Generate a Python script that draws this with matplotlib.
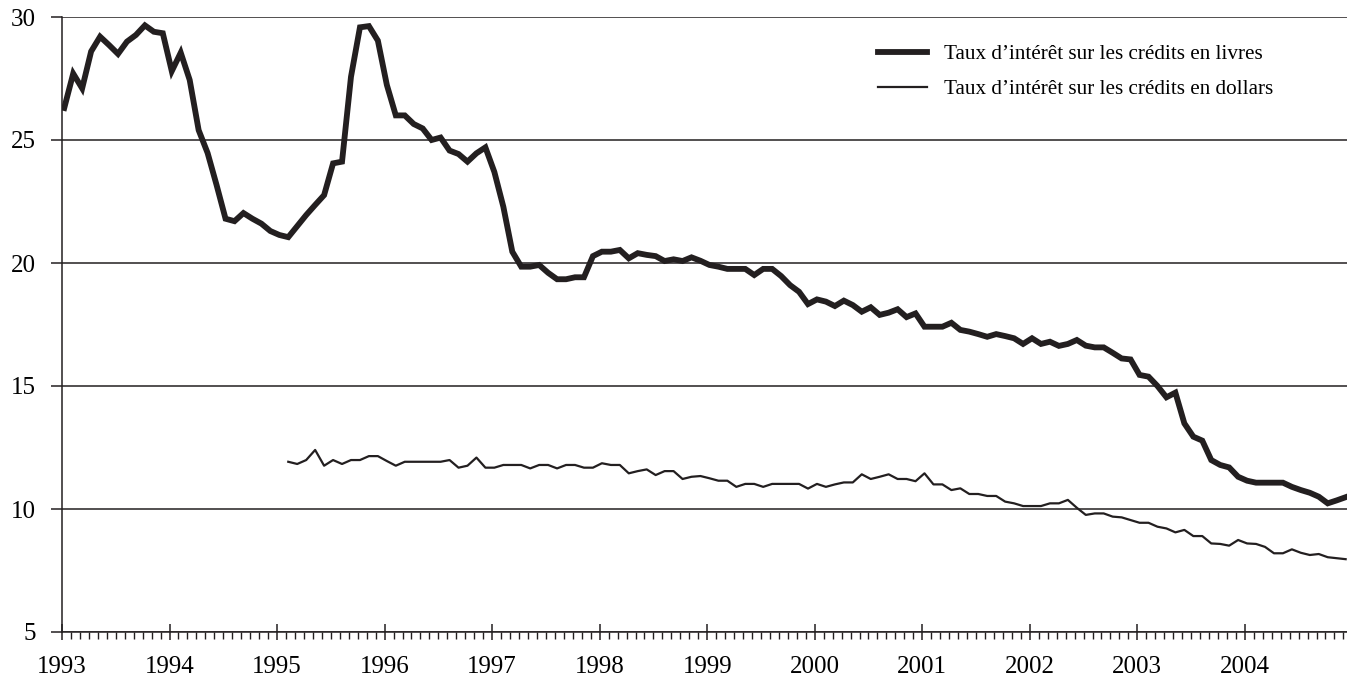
import matplotlib
matplotlib.use("Agg")
import matplotlib.pyplot as plt
import numpy as np
from matplotlib.ticker import MultipleLocator

plt.rcParams['font.family'] = ['Liberation Serif', 'DejaVu Serif']

years = list(range(1993, 2005))

# Taux sur les crédits en livres, mensuel, janv. 1993 - déc. 2004
livres = [
    26.3, 27.7, 27.1, 28.6, 29.2, 28.86, 28.5, 29.0, 29.27, 29.66, 29.4, 29.34,
    27.8, 28.55, 27.44, 25.4, 24.47, 23.17, 21.8, 21.7, 22.03, 21.8, 21.6, 21.3,
    21.14, 21.05, 21.5, 21.95, 22.36, 22.76, 24.05, 24.12, 27.57, 29.58, 29.63, 29.04,
    27.24, 26.0, 26.0, 25.65, 25.47, 25.0, 25.1, 24.57, 24.43, 24.12, 24.46, 24.7,
    23.7, 22.29, 20.46, 19.85, 19.85, 19.92, 19.6, 19.34, 19.34, 19.42, 19.42, 20.28,
    20.46, 20.46, 20.53, 20.19, 20.4, 20.33, 20.28, 20.08, 20.15, 20.08, 20.23, 20.09,
    19.92, 19.85, 19.76, 19.76, 19.76, 19.51, 19.76, 19.76, 19.47, 19.1, 18.83, 18.33,
    18.52, 18.43, 18.25, 18.47, 18.29, 18.02, 18.2, 17.89, 17.98, 18.12, 17.8, 17.95,
    17.41, 17.41, 17.41, 17.57, 17.28, 17.21, 17.11, 17.0, 17.11, 17.03, 16.94, 16.71,
    16.94, 16.71, 16.8, 16.63, 16.71, 16.87, 16.64, 16.57, 16.57, 16.35, 16.12, 16.08,
    15.45, 15.38, 15.0, 14.54, 14.73, 13.48, 12.94, 12.78, 11.99, 11.79, 11.69, 11.31,
    11.15, 11.07, 11.07, 11.07, 11.07, 10.9, 10.77, 10.66, 10.5, 10.23, 10.35, 10.48,
]

# Taux sur les crédits en dollars, mensuel, févr. 1995 - déc. 2004
dollars_start = 25  # index du mois de février 1995
dollars = [
    11.92, 11.83, 11.99, 12.4, 11.76, 11.99, 11.83, 11.99, 11.99, 12.15, 12.15,
    11.95, 11.76, 11.92, 11.92, 11.92, 11.92, 11.92, 11.99, 11.68, 11.76, 12.09, 11.68,
    11.68, 11.79, 11.79, 11.79, 11.65, 11.79, 11.79, 11.65, 11.79, 11.79, 11.68, 11.68,
    11.86, 11.79, 11.79, 11.45, 11.54, 11.61, 11.38, 11.54, 11.54, 11.22, 11.31, 11.34,
    11.25, 11.15, 11.15, 10.9, 11.02, 11.02, 10.9, 11.02, 11.02, 11.02, 11.02, 10.83,
    11.02, 10.9, 11.0, 11.08, 11.08, 11.41, 11.22, 11.31, 11.41, 11.22, 11.22, 11.13,
    11.45, 11.0, 11.0, 10.77, 10.84, 10.61, 10.61, 10.53, 10.53, 10.3, 10.23, 10.12,
    10.12, 10.12, 10.23, 10.23, 10.37, 10.05, 9.76, 9.82, 9.82, 9.69, 9.66, 9.55,
    9.44, 9.44, 9.28, 9.21, 9.05, 9.15, 8.9, 8.9, 8.6, 8.58, 8.51, 8.74,
    8.6, 8.58, 8.46, 8.2, 8.2, 8.36, 8.22, 8.13, 8.17, 8.04, 8.0, 7.96,
]

ink = '#231f20'

fig = plt.figure(figsize=(13.47, 6.84), dpi=100)
ax = fig.add_axes([62 / 1347, 52 / 684, 1 - 62 / 1347, 615 / 684])

x_liv = np.arange(len(livres)) + 0.25
x_dol = np.arange(len(dollars)) + dollars_start + 0.25

ax.plot(x_liv, livres, color=ink, lw=4.2, solid_joinstyle='miter',
        label="Taux d\u2019intérêt sur les crédits en livres")
ax.plot(x_dol, dollars, color=ink, lw=1.6,
        label="Taux d\u2019intérêt sur les crédits en dollars")

ax.set_xlim(0, 143.4)
ax.set_ylim(5, 30)

ax.set_yticks([5, 10, 15, 20, 25, 30])
ax.yaxis.grid(True, color=ink, lw=1.1)
ax.set_axisbelow(True)

ax.set_xticks([12 * k for k in range(len(years))])
ax.set_xticklabels([str(y) for y in years])
ax.xaxis.set_minor_locator(MultipleLocator(1))

for s in ['top', 'right']:
    ax.spines[s].set_visible(False)
for s in ['left', 'bottom']:
    ax.spines[s].set_color(ink)
    ax.spines[s].set_linewidth(1.1)

ax.tick_params(axis='x', which='major', direction='inout', length=12, width=1.1,
               color=ink, labelsize=18, pad=11)
ax.tick_params(axis='x', which='minor', direction='out', length=5, width=1.0,
               color=ink)
ax.tick_params(axis='y', which='major', direction='out', length=8, width=1.1,
               color=ink, labelsize=18, pad=11)

leg = ax.legend(loc='upper left', bbox_to_anchor=(0.635, 0.955), frameon=False,
                fontsize=15.2, handlelength=2.3, handletextpad=0.85,
                labelspacing=0.7, borderaxespad=0, borderpad=0)

fig.savefig('out.png', dpi=100)
